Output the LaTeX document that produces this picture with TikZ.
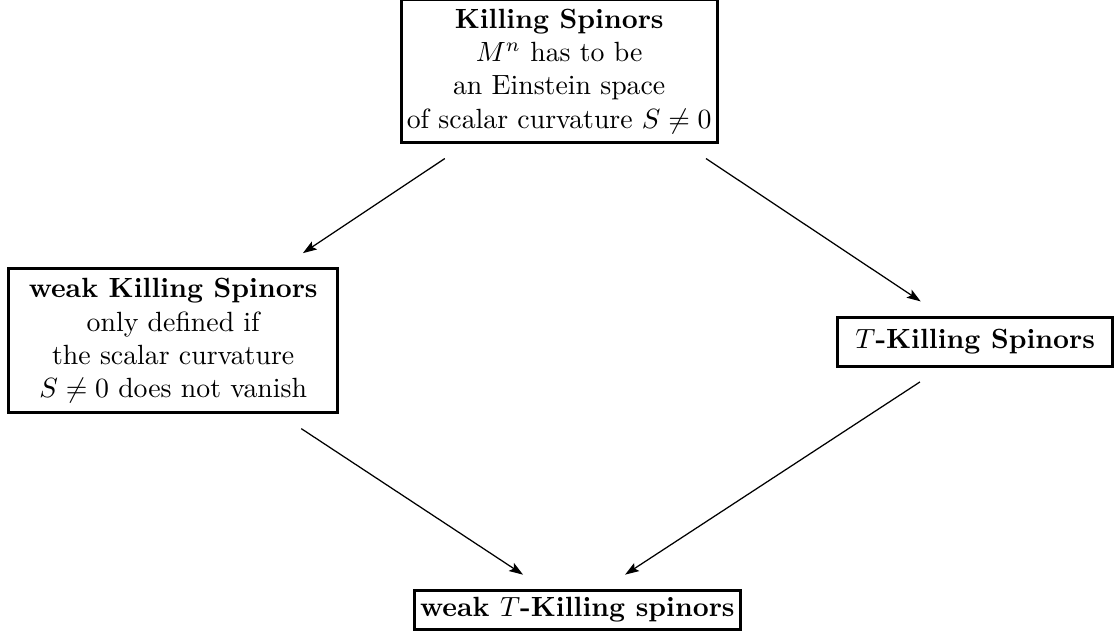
\documentclass[tikz,border=0pt]{standalone}
\usepackage{amsmath, amssymb}
\usepackage{tikz}
\usetikzlibrary{arrows.meta, calc}

\tikzset{
  spinorbox/.style={draw, line width=1.1pt, align=center, inner sep=2pt},
  implies/.style={-{Stealth[length=5pt,width=3.4pt,inset=1pt]}, line width=0.45pt}
}

\begin{document}
\begin{tikzpicture}
  \useasboundingbox (0,0) rectangle (14.11,-7.99);

  \node[spinorbox, minimum width=3.96cm, minimum height=1.81cm] (ks) at (7.07,-0.90)
    {\textbf{Killing Spinors}\\ $M^n$ has to be\\ an Einstein space\\ of scalar curvature $S\neq 0$};
  \node[spinorbox, minimum width=4.16cm, minimum height=1.82cm] (wks) at (2.19,-4.31)
    {\textbf{weak Killing Spinors}\\ only defined if\\ the scalar curvature\\ $S\neq 0$ does not vanish};
  \node[spinorbox, minimum width=3.48cm, minimum height=0.62cm] (tks) at (12.33,-4.32)
    {\textbf{$T$-Killing Spinors}};
  \node[spinorbox, minimum width=4.11cm, minimum height=0.49cm] (wtks) at (7.30,-7.71)
    {\textbf{weak $T$-Killing spinors}};

  \draw[implies] ([shift={(0.57,-0.18)}]ks.south west) -- ([shift={(-0.46,0.18)}]wks.north east);
  \draw[implies] ([shift={(-0.16,-0.18)}]ks.south east) -- ([shift={(1.07,0.18)}]tks.north west);
  \draw[implies] ([shift={(-0.48,-0.18)}]wks.south east) -- ([shift={(1.39,0.18)}]wtks.north west);
  \draw[implies] ([shift={(1.06,-0.18)}]tks.south west) -- ([shift={(2.68,0.18)}]wtks.north west);
\end{tikzpicture}
\end{document}
